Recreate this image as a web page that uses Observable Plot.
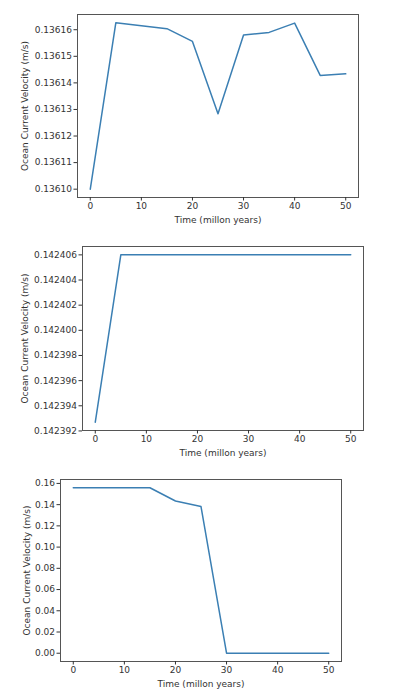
<!DOCTYPE html>
<html>
<head>
<meta charset="utf-8">
<script src="https://cdn.jsdelivr.net/npm/d3@7"></script>
<script src="https://cdn.jsdelivr.net/npm/@observablehq/plot@0.6"></script>
<style>
  html, body { margin: 0; padding: 0; background: #fff; }
  #wrap { position: relative; width: 400px; height: 700px; }
  .panel { position: absolute; left: 0; }
</style>
</head>
<body>
<div id="wrap"></div>
<script>
const years = [0, 5, 10, 15, 20, 25, 30, 35, 40, 45, 50];
const velocity1 = [0.136100, 0.1361626, 0.1361615, 0.1361604, 0.1361556, 0.1361284, 0.1361580, 0.1361590, 0.1361625, 0.1361428, 0.1361434];
const velocity2 = [0.1423927, 0.142406, 0.142406, 0.142406, 0.142406, 0.142406, 0.142406, 0.142406, 0.142406, 0.142406, 0.142406];
const velocity3 = [0.1559, 0.1559, 0.1559, 0.1559, 0.1434, 0.1382, 0.0, 0.0, 0.0, 0.0, 0.0];
const xTicks = [0, 10, 20, 30, 40, 50];
const yTicks1 = [0.13610, 0.13611, 0.13612, 0.13613, 0.13614, 0.13615, 0.13616];
const yTicks2 = [0.142392, 0.142394, 0.142396, 0.142398, 0.142400, 0.142402, 0.142404, 0.142406];
const yTicks3 = [0.00, 0.02, 0.04, 0.06, 0.08, 0.10, 0.12, 0.14, 0.16];
const xLabel = "Time (millon years)";
const yLabel = "Ocean Current Velocity (m/s)";

const panels = [
  {values: velocity1, yTicks: yTicks1, digits: 5, top: 0, height: 230, mt: 14, mb: 33, ml: 77, mr: 42, yl: 21.5},
  {values: velocity2, yTicks: yTicks2, digits: 6, top: 230, height: 230, mt: 16, mb: 30, ml: 82, mr: 37, yl: 21.5},
  {values: velocity3, yTicks: yTicks3, digits: 2, top: 460, height: 240, mt: 19, mb: 39, ml: 60, mr: 59, yl: 23.5}
];

const wrap = document.getElementById("wrap");
for (const p of panels) {
  const data = years.map((t, i) => ({t, v: p.values[i]}));
  const [lo, hi] = d3.extent(p.values);
  const pad = (hi - lo) * 0.05;
  const chart = Plot.plot({
    width: 400,
    height: p.height,
    marginTop: p.mt,
    marginBottom: p.mb,
    marginLeft: p.ml,
    marginRight: p.mr,
    style: {fontFamily: "DejaVu Sans", fontSize: "9px", color: "#333", background: "#fff"},
    x: {domain: [-2.5, 52.5]},
    y: {domain: [lo - pad, hi + pad]},
    marks: [
      Plot.line(data, {x: "t", y: "v", stroke: "#3b7fb3", strokeWidth: 1.5}),
      Plot.frame({stroke: "#555", strokeWidth: 1}),
      Plot.axisX({ticks: xTicks, tickSize: 3.5, tickPadding: 2, tickFormat: d => String(d), label: xLabel, labelAnchor: "center", labelArrow: "none", labelOffset: 25}),
      Plot.axisY({ticks: p.yTicks, tickSize: 3.5, tickPadding: 2, tickFormat: d => d.toFixed(p.digits), label: yLabel, labelAnchor: "center", labelArrow: "none", labelOffset: p.ml - p.yl})
    ]
  });
  const div = document.createElement("div");
  div.className = "panel";
  div.style.top = p.top + "px";
  div.appendChild(chart);
  wrap.appendChild(div);
}
</script>
</body>
</html>
